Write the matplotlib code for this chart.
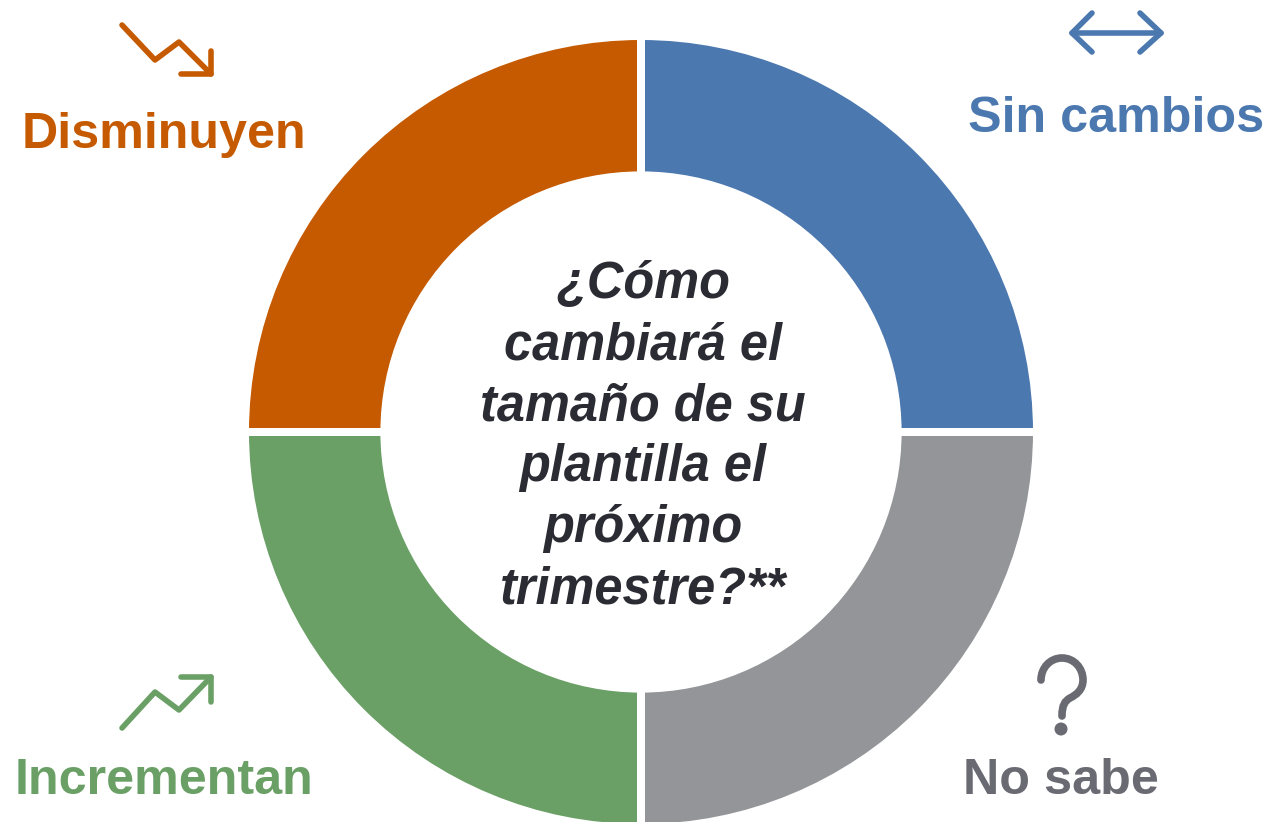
import matplotlib
matplotlib.use('Agg')
import matplotlib.pyplot as plt
from matplotlib.path import Path
from matplotlib.patches import PathPatch, Circle

W, H = 1271, 822

# donut, clockwise from 12 o'clock
categories = ['Sin cambios', 'No sabe', 'Incrementan', 'Disminuyen']
values = [25, 25, 25, 25]
colors = ['#4C78B0', '#939598', '#6AA066', '#C55A00']
label_colors = ['#4C78B0', '#696A72', '#6AA066', '#C55A00']
center_lines = ['¿Cómo', 'cambiará el', 'tamaño de su', 'plantilla el', 'próximo', 'trimestre?**']

plt.rcParams['font.family'] = ['Liberation Sans', 'DejaVu Sans']

fig = plt.figure(figsize=(W/100, H/100), dpi=100)

# pixel coordinates overlay for labels and icons
ax = fig.add_axes([0, 0, 1, 1])
ax.set_xlim(0, W)
ax.set_ylim(H, 0)
ax.axis('off')

cx, cy, R = 641, 432, 396
ax_pie = fig.add_axes([(cx-R)/W, 1-(cy+R)/H, 2*R/W, 2*R/H])
ax_pie.pie(values, colors=colors, startangle=90, counterclock=False, radius=1,
           wedgeprops=dict(width=0.352, edgecolor='white', linewidth=5.76))
ax_pie.set_xlim(-1, 1)
ax_pie.set_ylim(-1, 1)
ax_pie.patch.set_alpha(0)
ax.set_zorder(2)

# labels
label_pos = [(1116, 119), (1061, 781), (164, 781), (164, 135)]
for name, c, (x, y) in zip(categories, label_colors, label_pos):
    ax.text(x, y, name, color=c, fontsize=36.2, fontweight='bold', ha='center', va='center')

# one text per line, the line pitch is not even with linespacing
for i, line in enumerate(center_lines):
    ax.text(643, 298 + i*61, line, color='#2B2B33', fontsize=36.4, fontweight='bold',
            fontstyle='italic', ha='center', va='baseline')


def stroke(xs, ys, c, lw=4.0):
    ax.plot(xs, ys, color=c, lw=lw, solid_capstyle='round', solid_joinstyle='round')


# down arrow
stroke([122, 155, 179, 211], [25, 60, 42, 74], colors[3])
stroke([181, 211, 211], [74, 74, 51], colors[3])
# up arrow
stroke([122, 155, 179, 211], [728, 692, 710, 677], colors[2])
stroke([181, 211, 211], [677, 677, 702], colors[2])
# double arrow
stroke([1072, 1161], [33, 33], colors[0])
stroke([1092, 1072, 1092], [13, 33, 52], colors[0])
stroke([1140, 1161, 1140], [13, 33, 52], colors[0])
# question mark
verts = [(1041, 680), (1041, 668), (1050, 658), (1062, 658), (1074, 658), (1083, 668), (1083, 680),
         (1083, 690), (1076, 695), (1070, 698), (1065, 701), (1062, 705), (1062, 716)]
codes = [Path.MOVETO] + [Path.CURVE4]*12
ax.add_patch(PathPatch(Path(verts, codes), fc='none', ec=label_colors[1], lw=5.5, capstyle='round'))
ax.add_patch(Circle((1061, 729), 6.5, color=label_colors[1], lw=0))

fig.savefig('out.png', dpi=100)
